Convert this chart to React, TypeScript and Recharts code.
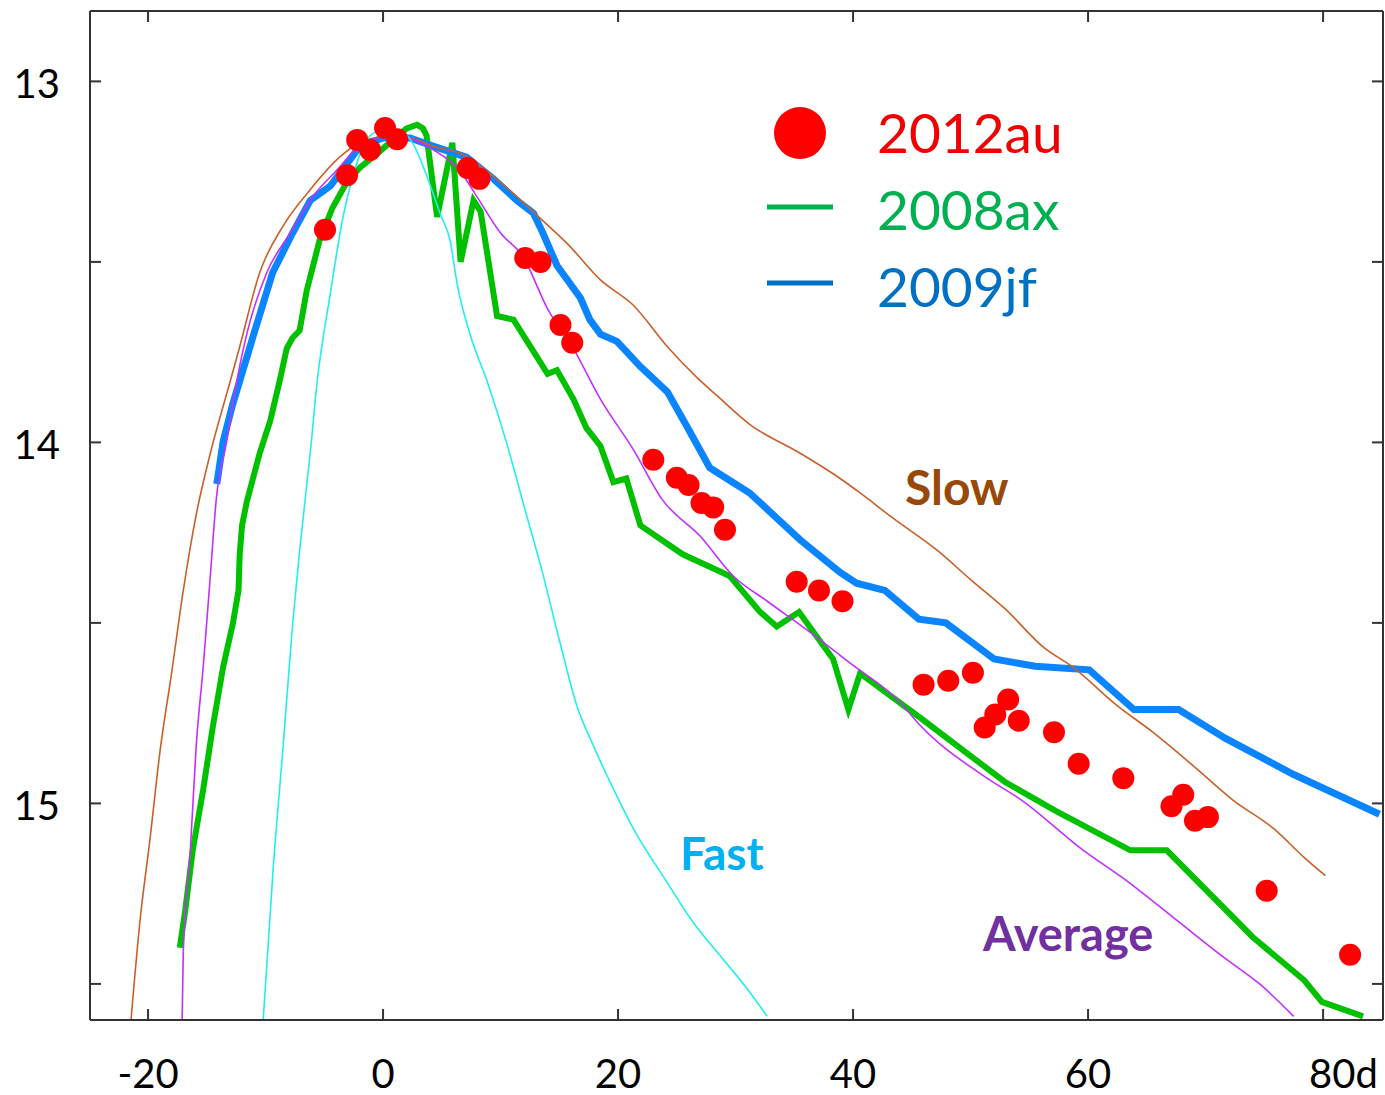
import React from 'react';
import { ComposedChart, Line, Scatter, XAxis, YAxis } from 'recharts';

// ---- axis ticks ----
const xTicks = [-20, 0, 20, 40, 60, 80];
const xTickLabels = ['-20', '0', '20', '40', '60', '80d'];
const yTicks = [13, 13.5, 14, 14.5, 15, 15.5];
const yTickLabels = ['13', '', '14', '', '15', ''];
const xDomain = [-24.94, 85.1];
const yDomain = [12.805, 15.6];

// ---- series: [day, magnitude] ----
const sn2012au: [number, number][] = [
  [-4.94, 13.411], [-3.06, 13.26], [-2.2, 13.162], [-1.1, 13.19], [0.17, 13.129], [1.2, 13.16],
  [7.2, 13.24], [8.2, 13.27], [12.1, 13.489], [13.4, 13.5], [15.1, 13.675], [16.1, 13.724],
  [23.0, 14.048], [25.0, 14.098], [26.0, 14.118], [27.1, 14.168], [28.1, 14.18], [29.1, 14.242],
  [35.2, 14.386], [37.1, 14.41], [39.1, 14.44], [46.0, 14.671], [48.1, 14.66], [50.2, 14.638],
  [51.2, 14.79], [52.1, 14.754], [53.2, 14.712], [54.1, 14.771], [57.1, 14.803], [59.2, 14.89],
  [63.0, 14.93], [67.1, 15.008], [68.1, 14.976], [69.1, 15.048], [70.2, 15.038], [75.2, 15.242],
  [82.3, 15.419],
];

const sn2008ax: [number, number][] = [
  [-17.3, 15.4], [-16.85, 15.3], [-16.2, 15.13], [-15.3, 14.96], [-14.5, 14.79], [-13.6, 14.62],
  [-12.8, 14.505], [-12.3, 14.41], [-12.2, 14.31], [-12.0, 14.23], [-11.6, 14.165], [-10.5, 14.03],
  [-9.6, 13.94], [-8.8, 13.83], [-8.2, 13.74], [-7.7, 13.71], [-7.1, 13.69], [-6.5, 13.58],
  [-5.4, 13.44], [-4.3, 13.35], [-3.1, 13.28], [-2.0, 13.24], [-0.5, 13.2], [0.9, 13.16],
  [2.0, 13.13], [2.9, 13.12], [3.4, 13.13], [3.7, 13.15], [4.6, 13.375], [5.9, 13.17],
  [6.6, 13.5], [7.7, 13.33], [8.3, 13.36], [9.7, 13.65], [11.1, 13.66], [14.0, 13.81],
  [14.8, 13.8], [16.2, 13.88], [17.3, 13.96], [18.5, 14.01], [19.6, 14.11], [20.7, 14.1],
  [21.9, 14.23], [25.5, 14.31], [29.5, 14.37], [32.1, 14.47], [33.5, 14.51], [35.4, 14.47],
  [38.3, 14.6], [39.6, 14.74], [40.6, 14.64], [45.6, 14.76], [52.9, 14.94], [57.2, 15.02],
  [63.6, 15.13], [66.7, 15.13], [74.0, 15.37], [78.4, 15.49], [79.9, 15.55], [83.4, 15.59],
];

const sn2009jf: [number, number][] = [
  [-14.15, 14.115], [-13.6, 13.996], [-12.8, 13.895], [-12.2, 13.83], [-11.0, 13.7], [-9.4, 13.53],
  [-7.7, 13.42], [-6.2, 13.33], [-4.5, 13.29], [-3.1, 13.23], [-2.0, 13.18], [0, 13.157],
  [2.3, 13.157], [4.3, 13.18], [7.1, 13.21], [9.4, 13.27], [11.4, 13.33], [12.8, 13.365],
  [13.6, 13.42], [14.8, 13.51], [16.8, 13.6], [17.6, 13.66], [18.5, 13.7], [19.9, 13.72],
  [21.9, 13.79], [24.2, 13.86], [26.1, 13.97], [27.8, 14.07], [31.2, 14.14], [35.5, 14.27],
  [38.9, 14.36], [40.3, 14.39], [42.7, 14.41], [45.6, 14.49], [47.9, 14.5], [52.0, 14.6],
  [55.5, 14.62], [60.1, 14.63], [63.9, 14.74], [67.7, 14.74], [71.7, 14.82], [77.5, 14.92],
  [84.8, 15.03],
];

const slowTemplate: [number, number][] = [
  [-21.45, 15.6], [-20.7, 15.33], [-19.8, 15.09], [-19.0, 14.86], [-18.0, 14.64], [-17.0, 14.41],
  [-15.9, 14.2], [-14.7, 14.03], [-13.0, 13.83], [-12.2, 13.735], [-10.5, 13.53], [-8.5, 13.4],
  [-6.2, 13.3], [-3.7, 13.21], [-2.0, 13.17], [0, 13.154], [2.3, 13.157], [4.3, 13.18],
  [6.6, 13.2], [10.0, 13.28], [13.4, 13.38], [15.7, 13.45], [18.5, 13.55], [21.3, 13.62],
  [24.2, 13.735], [26.7, 13.82], [28.4, 13.87], [31.2, 13.95], [35.5, 14.03], [38.9, 14.1],
  [40.6, 14.14], [43.4, 14.21], [47.2, 14.3], [50.0, 14.38], [52.9, 14.46], [56.3, 14.57],
  [58.6, 14.62], [62.5, 14.73], [65.4, 14.8], [69.1, 14.9], [72.3, 14.99], [75.8, 15.07],
  [78.4, 15.15], [80.2, 15.2],
];

const averageTemplate: [number, number][] = [
  [-17.1, 15.6], [-17.0, 15.41], [-16.4, 15.13], [-15.9, 14.84], [-15.3, 14.62], [-14.7, 14.37],
  [-14.2, 14.16], [-13.3, 13.996], [-12.45, 13.83], [-11.6, 13.7], [-9.9, 13.53], [-7.9, 13.42],
  [-6.0, 13.32], [-3.9, 13.245], [-1.7, 13.17], [0, 13.155], [2.3, 13.16], [4.3, 13.19],
  [6.6, 13.25], [8.0, 13.32], [10.0, 13.42], [11.9, 13.485], [14.0, 13.63], [16.2, 13.74],
  [18.5, 13.88], [21.3, 14.02], [23.8, 14.16], [27.0, 14.26], [29.8, 14.37], [32.7, 14.44],
  [36.1, 14.52], [39.7, 14.61], [44.0, 14.72], [45.6, 14.78], [51.4, 14.93], [54.3, 14.99],
  [59.6, 15.13], [63.1, 15.21], [67.4, 15.32], [71.7, 15.43], [74.6, 15.5], [77.5, 15.59],
];

const fastTemplate: [number, number][] = [
  [-10.2, 15.6], [-9.35, 15.18], [-8.5, 14.84], [-7.7, 14.505], [-7.1, 14.3], [-6.2, 14.03],
  [-5.6, 13.83], [-4.5, 13.59], [-3.4, 13.375], [-2.5, 13.255], [-1.7, 13.18], [-0.5, 13.14],
  [1.5, 13.14], [2.6, 13.175], [3.7, 13.26], [4.9, 13.37], [5.7, 13.44], [6.3, 13.56],
  [7.4, 13.7], [8.9, 13.835], [10.5, 14.0], [12.2, 14.2], [13.4, 14.34], [15.1, 14.56],
  [16.5, 14.73], [17.9, 14.84], [19.6, 14.96], [21.3, 15.07], [24.2, 15.22], [26.4, 15.33],
  [28.9, 15.43], [30.9, 15.51], [32.7, 15.59],
];

const toPts = (arr: [number, number][]) => arr.map(([x, y]) => ({ x, y }));

const AXIS = '#333333';
const FONT = 'Lato, "Open Sans", sans-serif';

function BottomTick(props: any) {
  const { x, y, payload } = props;
  const i = xTicks.indexOf(payload.value);
  const label = xTickLabels[i] ?? '';
  const isLast = label.endsWith('d');
  return (
    <g>
      <line x1={x} y1={y} x2={x} y2={y - 11} stroke={AXIS} strokeWidth={2} />
      <text
        x={isLast ? x - 14 : x}
        y={y + 68}
        textAnchor={isLast ? 'start' : 'middle'}
        fontSize={40}
        fontFamily={FONT}
        fill="#000"
      >
        {label}
      </text>
    </g>
  );
}

function TopTick(props: any) {
  const { x, y } = props;
  return <line x1={x} y1={y} x2={x} y2={y + 11} stroke={AXIS} strokeWidth={2} />;
}

function LeftTick(props: any) {
  const { x, y, payload } = props;
  const i = yTicks.indexOf(payload.value);
  const label = yTickLabels[i] ?? '';
  return (
    <g>
      <line x1={x} y1={y} x2={x + 11} y2={y} stroke={AXIS} strokeWidth={2} />
      {label ? (
        <text x={x - 30} y={y + 17} textAnchor="end" fontSize={40} fontFamily={FONT} fill="#000">
          {label}
        </text>
      ) : null}
    </g>
  );
}

function RightTick(props: any) {
  const { x, y } = props;
  return <line x1={x} y1={y} x2={x - 11} y2={y} stroke={AXIS} strokeWidth={2} />;
}

const Dot = (p: any) => <circle cx={p.cx} cy={p.cy} r={11} fill="#ff0000" />;

export default function App() {
  return (
    <div style={{ position: 'absolute', left: 0, top: 0, width: 1385, height: 1095, background: '#fff' }}>
      <ComposedChart width={1385} height={1095} margin={{ top: 1, right: 1, bottom: 0, left: 0 }}>
        <XAxis
          type="number"
          dataKey="x"
          domain={xDomain}
          ticks={xTicks}
          allowDataOverflow
          height={75}
          tickSize={0}
          tickMargin={0}
          tickLine={false}
          tick={BottomTick}
          axisLine={{ stroke: AXIS, strokeWidth: 2 }}
          interval={0}
        />
        <XAxis
          xAxisId="top"
          orientation="top"
          type="number"
          dataKey="x"
          domain={xDomain}
          ticks={xTicks}
          allowDataOverflow
          height={10}
          tickSize={0}
          tickMargin={0}
          tickLine={false}
          tick={TopTick}
          axisLine={{ stroke: AXIS, strokeWidth: 2 }}
          interval={0}
        />
        <YAxis
          type="number"
          dataKey="y"
          domain={yDomain}
          reversed
          ticks={yTicks}
          allowDataOverflow
          width={90}
          tickSize={0}
          tickMargin={0}
          tickLine={false}
          tick={LeftTick}
          axisLine={{ stroke: AXIS, strokeWidth: 2 }}
          interval={0}
        />
        <YAxis
          yAxisId="right"
          orientation="right"
          type="number"
          dataKey="y"
          domain={yDomain}
          reversed
          ticks={yTicks}
          allowDataOverflow
          width={1}
          tickSize={0}
          tickMargin={0}
          tickLine={false}
          tick={RightTick}
          axisLine={{ stroke: AXIS, strokeWidth: 2 }}
          interval={0}
        />
        <Scatter name="2012au" data={toPts(sn2012au)} dataKey="y" shape={Dot} isAnimationActive={false} />
        <Line data={toPts(sn2008ax)} dataKey="y" type="linear" stroke="#00c000" strokeWidth={6} dot={false} isAnimationActive={false} />
        <Line data={toPts(sn2009jf)} dataKey="y" type="linear" stroke="#0a84ff" strokeWidth={7} dot={false} isAnimationActive={false} />
        <Line data={toPts(slowTemplate)} dataKey="y" type="monotoneX" stroke="#c8602a" strokeWidth={1.6} dot={false} isAnimationActive={false} />
        <Line data={toPts(averageTemplate)} dataKey="y" type="monotoneX" stroke="#c230ff" strokeWidth={1.6} dot={false} isAnimationActive={false} />
        <Line data={toPts(fastTemplate)} dataKey="y" type="monotoneX" stroke="#22eeee" strokeWidth={1.6} dot={false} isAnimationActive={false} />
      </ComposedChart>
      <svg
        width={1385}
        height={1095}
        style={{ position: 'absolute', left: 0, top: 0, pointerEvents: 'none' }}
        fontFamily={FONT}
      >
        <circle cx={800} cy={133} r={26} fill="#ff0000" />
        <line x1={767} y1={207} x2={833} y2={207} stroke="#00b050" strokeWidth={5} />
        <line x1={767} y1={283} x2={833} y2={283} stroke="#0070c0" strokeWidth={5} />
        <text x={877} y={153} fontSize={55} fill="#f00000">2012au</text>
        <text x={877} y={230} fontSize={55} fill="#00b050">2008ax</text>
        <text x={877} y={307} fontSize={55} fill="#0070c0">2009jf</text>
        <text x={905} y={505} fontSize={48} fontWeight="bold" fill="#984807">Slow</text>
        <text x={680} y={870} fontSize={46} fontWeight="bold" fill="#00b0f0">Fast</text>
        <text x={983} y={951} fontSize={47} fontWeight="bold" fill="#7030a0">Average</text>
      </svg>
    </div>
  );
}
